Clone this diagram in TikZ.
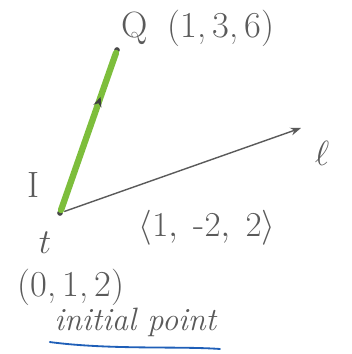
\documentclass[tikz,border=0pt]{standalone}
\usepackage{amsmath,amssymb}
\usepackage{tikz}
\usetikzlibrary{arrows.meta,decorations.markings}
\definecolor{pencil}{HTML}{5A5A5A}
\definecolor{segc}{HTML}{7DBE3C}
\definecolor{inkblue}{HTML}{1F5FB8}
\tikzset{
  dot/.style={circle, fill=pencil!80!black, inner sep=0pt, minimum size=4pt},
  hand/.style={text=pencil, font=\fontsize{26}{30}\selectfont, inner sep=1pt},
  >=Stealth,
}
\begin{document}
\begin{tikzpicture}[x=0.025cm, y=-0.025cm]
\useasboundingbox (0,0) rectangle (352,354);
% points
\node[dot] (P) at (60,213) {};
\node[dot] (Q) at (117,50) {};
\coordinate (L) at (301,128);
% the line and the segment
\draw[->, pencil, line width=1pt, shorten <=1pt] (P) -- (L);
\draw[segc, line width=4.5pt, line cap=round,
      postaction={decorate, decoration={markings,
        mark=at position 0.72 with {\arrow[pencil!70!black, line width=0.8pt]{Stealth[length=7pt,width=6pt]}}}}]
  (P) -- (Q);
% labels
\node[hand] (qlab) at (198,28) {Q\;\;(1,\,3,\,6)};
\node[hand] (ell) at (322,153) {$\ell$};
\node[hand] (ilab) at (33,185) {I};
\node[hand] (tlab) at (45,243) {$t$};
\node[hand] (dir) at (207,228) {$\langle 1,\;\text{-}2,\;2\rangle$};
\node[hand] (plab) at (71,287) {(0,\,1,\,2)};
\node[hand, font=\fontsize{23}{27}\selectfont] (init) at (136,322) {\textit{initial point}};
\draw[inkblue, line width=1.3pt, line cap=round]
  (init.south west) ++(-3,4) coordinate (u1)
  .. controls (110,350) and (180,346) .. (220,349);
\end{tikzpicture}
\end{document}
